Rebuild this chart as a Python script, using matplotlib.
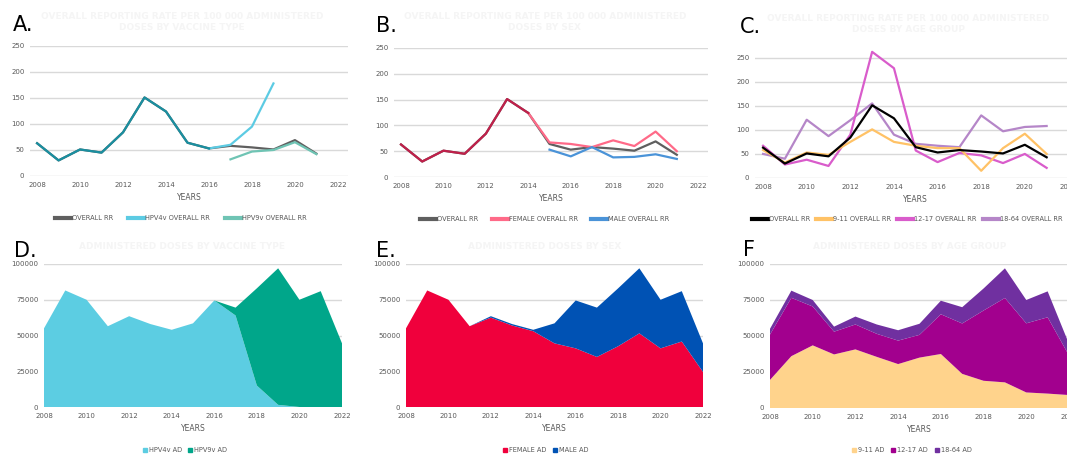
import numpy as np
import matplotlib.pyplot as plt
from matplotlib.patches import Patch
from matplotlib.lines import Line2D

plt.rcParams['font.family'] = ['DejaVu Sans']

# reporting rates per 100 000 administered doses
years_rr = np.arange(2008, 2022)
overall_rr = [63, 30, 51, 45, 84, 151, 124, 64, 53, 58, 55, 51, 69, 43]
years_4v = np.arange(2008, 2020)
hpv4v_rr = [63, 30, 51, 45, 84, 151, 124, 64, 53, 60, 95, 178]
years_9v = np.arange(2017, 2022)
hpv9v_rr = [32, 47, 50, 65, 42]

female_rr = [63, 30, 51, 45, 84, 151, 124, 67, 64, 58, 71, 60, 88, 50]
years_male = np.arange(2015, 2022)
male_rr = [53, 40, 58, 38, 39, 44, 35]

age911_rr = [58, 32, 53, 48, 75, 101, 75, 67, 62, 62, 15, 62, 92, 50]
age1217_rr = [67, 28, 38, 25, 90, 262, 228, 57, 33, 52, 47, 31, 50, 21]
age1864_rr = [50, 40, 121, 87, 120, 155, 90, 71, 67, 64, 130, 97, 106, 108]

# administered doses
years_ad = np.arange(2008, 2023)
hpv4v_ad = [55000, 81500, 75000, 56500, 63500, 58000, 54000, 58500, 74500,
            64000, 15000, 1500, 0, 0, 0]
hpv9v_ad = [0, 0, 0, 0, 0, 0, 0, 0, 0, 5500, 68000, 95500, 75000, 81000, 44500]
female_ad = [55000, 81500, 75000, 56500, 62500, 57000, 53000, 44500, 41000,
             35000, 42500, 51500, 41000, 45800, 24500]
male_ad = [0, 0, 0, 0, 1000, 1000, 1000, 14000, 33500, 34500, 40500, 45500,
           34000, 35200, 20000]
age911_ad = [19500, 36000, 43500, 37200, 40700, 35500, 30500, 35000, 37500,
             23700, 18900, 17800, 10800, 10000, 9000]
age1217_ad = [31500, 40500, 27000, 15800, 17300, 16000, 16300, 15800, 27600,
              35000, 48800, 58600, 48000, 53000, 27500]
age1864_ad = [4000, 5000, 4500, 3500, 5500, 6500, 7200, 7700, 9400,
              11300, 15300, 20600, 16200, 18000, 8000]

tick_col = '#595959'
grid_col = '#d9d9d9'
title_col = '#f5f5f5'
W, H = 1067, 455

fig = plt.figure(figsize=(W / 100, H / 100), dpi=100)


def px_axes(x0, x1, ytop, ybot):
    return fig.add_axes([x0 / W, 1 - ybot / H, (x1 - x0) / W, (ybot - ytop) / H])


def style(ax, yticks, ylim, xlim):
    ax.set_xlim(*xlim)
    ax.set_ylim(*ylim)
    ax.set_yticks(yticks)
    ax.set_xticks(np.arange(2008, 2023, 2))
    for s in ax.spines.values():
        s.set_visible(False)
    ax.grid(axis='y', color=grid_col, lw=1)
    ax.set_axisbelow(True)
    ax.tick_params(length=0, labelsize=5, colors=tick_col, pad=4)
    ax.set_xlabel('YEARS', fontsize=5.5, color=tick_col, labelpad=4)


lw = 1.6

# A
axA = px_axes(30, 348, 46, 176)
axA.plot(years_rr, overall_rr, color='#5f5f5f', lw=lw)
axA.plot(years_9v, hpv9v_rr, color='#6fc4b4', lw=lw)
axA.plot(years_4v[8:], hpv4v_rr[8:], color='#5ccbe3', lw=lw)
axA.plot(years_4v[:9], hpv4v_rr[:9], color='#1a8fa0', lw=lw)
style(axA, range(0, 251, 50), (0, 250), (2007.67, 2022.47))

# B
axB = px_axes(394, 708, 48, 177)
axB.plot(years_rr, overall_rr, color='#5f5f5f', lw=lw)
axB.plot(years_rr[6:], female_rr[6:], color='#ff6a88', lw=lw)
axB.plot(years_male, male_rr, color='#4a93d8', lw=lw)
axB.plot(years_rr[:7], female_rr[:7], color='#c0204a', lw=lw)
style(axB, range(0, 251, 50), (0, 250), (2007.67, 2022.47))

# C
axC = px_axes(755, 1075, 48, 178)
axC.plot(years_rr, age1864_rr, color='#b586c8', lw=lw)
axC.plot(years_rr, age1217_rr, color='#d95ccb', lw=lw)
axC.plot(years_rr, age911_rr, color='#ffc266', lw=lw)
axC.plot(years_rr, overall_rr, color='#000000', lw=lw)
style(axC, range(0, 251, 50), (0, 270), (2007.63, 2022.3))

# D
axD = px_axes(44, 342, 264, 407)
axD.stackplot(years_ad, hpv4v_ad, hpv9v_ad, colors=['#5ccde2', '#00a68a'])
style(axD, range(0, 100001, 25000), (0, 100000), (2008, 2022))

# E
axE = px_axes(406, 703, 264, 407)
axE.stackplot(years_ad, female_ad, male_ad, colors=['#f0003c', '#0052b4'])
style(axE, range(0, 100001, 25000), (0, 100000), (2008, 2022))

# F
axF = px_axes(770, 1069, 264, 408)
axF.stackplot(years_ad, age911_ad, age1217_ad, age1864_ad,
              colors=['#ffd38c', '#a2008e', '#7030a0'])
style(axF, range(0, 100001, 25000), (0, 100000), (2008, 2022))

# panel letters
for lab, x, y in [('A.', 13, 31), ('B.', 376, 32), ('C.', 740, 33),
                  ('D.', 14, 257), ('E.', 376, 257), ('F', 743, 256)]:
    fig.text(x / W, 1 - y / H, lab, fontsize=15, color='black', va='baseline')

# faint titles
titles = [
    ('OVERALL REPORTING RATE PER 100 000 ADMINISTERED\nDOSES BY VACCINE TYPE', 182, 22),
    ('OVERALL REPORTING RATE PER 100 000 ADMINISTERED\nDOSES BY SEX', 545, 22),
    ('OVERALL REPORTING RATE PER 100 000 ADMINISTERED\nDOSES BY AGE GROUP', 908, 24),
    ('ADMINISTERED DOSES BY VACCINE TYPE', 182, 247),
    ('ADMINISTERED DOSES BY SEX', 545, 247),
    ('ADMINISTERED DOSES BY AGE GROUP', 910, 247),
]
for t, x, y in titles:
    fig.text(x / W, 1 - y / H, t, fontsize=6.5, fontweight='bold',
             color=title_col, ha='center', va='center', linespacing=1.2)


# legends
def line_legend(items, cx, cy, gap):
    handles = [Line2D([], [], color=c, lw=3) for c in items.values()]
    fig.legend(handles, list(items.keys()), loc='center',
               bbox_to_anchor=(cx / W, 1 - cy / H), ncol=len(items),
               frameon=False, fontsize=4.8, labelcolor=tick_col,
               handlelength=2.4, handletextpad=0.15, columnspacing=gap,
               borderpad=0)


def box_legend(items, cx, cy):
    handles = [Patch(color=c) for c in items.values()]
    fig.legend(handles, list(items.keys()), loc='center',
               bbox_to_anchor=(cx / W, 1 - cy / H), ncol=len(items),
               frameon=False, fontsize=4.8, labelcolor=tick_col,
               handlelength=0.6, handleheight=0.6, handletextpad=0.3,
               columnspacing=1.0, borderpad=0)


line_legend({'OVERALL RR': '#5f5f5f', 'HPV4v OVERALL RR': '#5ccbe3',
             'HPV9v OVERALL RR': '#6fc4b4'}, 181, 218, 2.2)
line_legend({'OVERALL RR': '#5f5f5f', 'FEMALE OVERALL RR': '#ff6a88',
             'MALE OVERALL RR': '#4a93d8'}, 545, 219, 2.0)
line_legend({'OVERALL RR': '#000000', '9-11 OVERALL RR': '#ffc266',
             '12-17 OVERALL RR': '#d95ccb', '18-64 OVERALL RR': '#b586c8'}, 907, 219, 0.9)
box_legend({'HPV4v AD': '#5ccde2', 'HPV9v AD': '#00a68a'}, 185, 450)
box_legend({'FEMALE AD': '#f0003c', 'MALE AD': '#0052b4'}, 546, 450)
box_legend({'9-11 AD': '#ffd38c', '12-17 AD': '#a2008e', '18-64 AD': '#7030a0'}, 912, 450)

fig.savefig('out.png', dpi=100)
